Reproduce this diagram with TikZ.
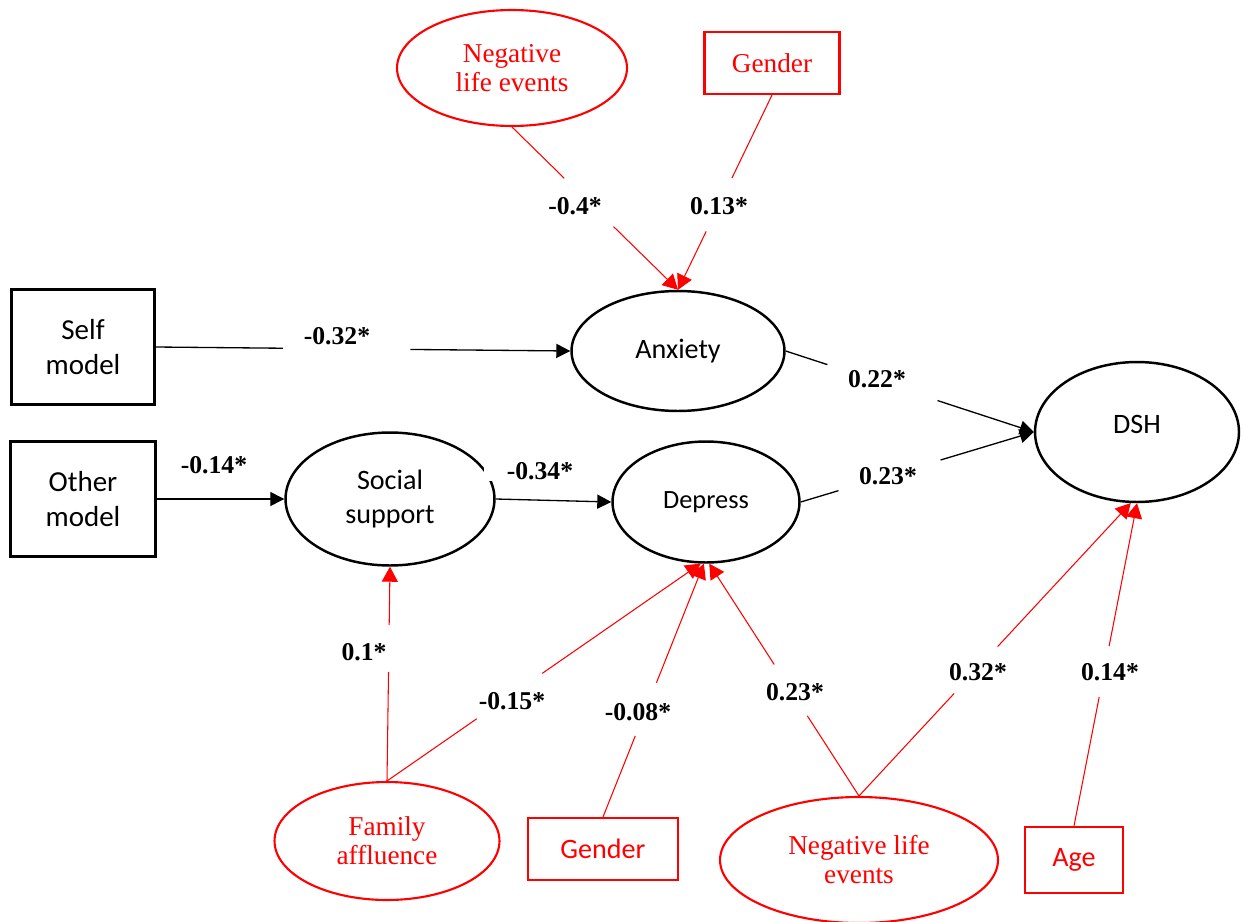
\documentclass[tikz,border=0pt]{standalone}
\usepackage{fontspec}
\setmainfont{Liberation Serif}
\newfontfamily\carl{Carlito}
\usetikzlibrary{shapes.geometric,arrows.meta,calc}
\definecolor{myred}{RGB}{255,0,0}
\begin{document}
\begin{tikzpicture}[x=0.02cm,y=-0.02cm,
  lat/.style={ellipse,draw,line width=1.4pt,inner sep=0pt,align=center,font=\carl\fontsize{16}{19.5}\selectfont},
  obs/.style={rectangle,draw,line width=1.4pt,inner sep=0pt,align=center,font=\carl\fontsize{16.5}{20}\selectfont},
  rlat/.style={ellipse,draw=myred,line width=1.2pt,inner sep=0pt,align=center,text=myred,font=\fontsize{15.5}{16.5}\selectfont},
  robs/.style={rectangle,draw=myred,line width=1.2pt,inner sep=0pt,align=center,text=myred,font=\carl\fontsize{16}{19}\selectfont},
  lab/.style={inner sep=1pt,font=\bfseries\fontsize{14.6}{16}\selectfont},
  blk/.style={line width=0.75pt,-{Triangle[length=0.28cm,width=0.28cm]}},
  rar/.style={draw=myred,line width=0.6pt,-{Triangle[length=0.3cm,width=0.32cm,color=myred,fill=myred]}}
]
\useasboundingbox (0,0) rectangle (1243,922);
% nodes
\node[rlat,minimum width=4.6cm,minimum height=2.32cm] (nle1) at (512,68) {Negative\\life events};
\node[robs,minimum width=2.7cm,minimum height=1.24cm,font=\fontsize{15.5}{16.5}\selectfont] (gen1) at (772,63) {Gender};
\node[obs,minimum width=2.86cm,minimum height=2.3cm] (self) at (83,347) {Self\\model};
\node[obs,minimum width=2.9cm,minimum height=2.3cm] (other) at (83,499) {Other\\model};
\node[lat,minimum width=4.26cm,minimum height=2.4cm] (anx) at (678,351) {\raisebox{-0.06cm}{Anxiety}};
\node[lat,minimum width=4.08cm,minimum height=2.8cm] (dsh) at (1137,432) {\raisebox{0.3cm}{DSH}};
\node[lat,minimum width=4.18cm,minimum height=2.66cm] (soc) at (390,499) {Social\\support};
\node[lat,minimum width=3.74cm,minimum height=2.42cm,font=\carl\fontsize{15}{18}\selectfont] (dep) at (706,502) {Depress};
\node[rlat,minimum width=4.5cm,minimum height=2.36cm] (fam) at (387,841) {Family\\affluence};
\node[robs,minimum width=3.0cm,minimum height=1.24cm] (gen2) at (603,849) {Gender};
\node[rlat,minimum width=5.56cm,minimum height=2.52cm] (nle2) at (859,860) {Negative life\\events};
\node[robs,minimum width=1.96cm,minimum height=1.32cm] (age) at (1074,860) {Age};
% labels
\node[lab] (l1) at (575,206) {-0.4*};
\node[lab] (l2) at (719,206) {0.13*};
\node[lab] (l3) at (337,336) {-0.32*};
\node[lab] (l4) at (214,465) {-0.14*};
\node[lab,fill=white,inner xsep=0.46cm,inner ysep=1pt] (l5) at (540,471) {-0.34*};
\node[lab] (l6) at (877,379) {0.22*};
\node[lab] (l7) at (888,476) {0.23*};
\node[lab] (l8) at (364,652) {0.1*};
\node[lab] (l9) at (512,701) {-0.15*};
\node[lab] (l10) at (638,712) {-0.08*};
\node[lab] (l11) at (795,692) {0.23*};
\node[lab] (l12) at (978,672) {0.32*};
\node[lab] (l13) at (1110,672) {0.14*};
% black connectors
\draw[blk] (self.east) -- ($(self.east)!0.307!(anx.west)$) ($(self.east)!0.614!(anx.west)$) -- (anx.west);
\draw[blk] (other.east) -- (soc.west);
\draw[blk] (soc.east) -- (dep.west);
\draw[blk] (anx.east) -- ($(anx.east)!0.168!(dsh.west)$) ($(anx.east)!0.612!(dsh.west)$) -- (dsh.west);
\draw[blk] (dep.east) -- ($(dep.east)!0.162!(dsh.west)$) ($(dep.east)!0.6!(dsh.west)$) -- (dsh.west);
% red connectors
\draw[rar] (nle1.south) -- ($(nle1.south)!0.315!(anx.north)$) ($(nle1.south)!0.612!(anx.north)$) -- (anx.north);
\draw[rar] (gen1.south) -- ($(gen1.south)!0.426!(anx.north)$) ($(gen1.south)!0.70!(anx.north)$) -- (anx.north);
\draw[rar] (fam.north) -- ($(fam.north)!0.509!(soc.south)$) ($(fam.north)!0.727!(soc.south)$) -- (soc.south);
\draw[rar] (fam.north) -- ($(fam.north)!0.286!(dep.265)$) ($(fam.north)!0.495!(dep.265)$) -- (dep.265);
\draw[rar] (gen2.north) -- ($(gen2.north)!0.32!(dep.268)$) ($(gen2.north)!0.53!(dep.268)$) -- (dep.268);
\draw[rar] (nle2.north) -- ($(nle2.north)!0.345!(dep.273)$) ($(nle2.north)!0.566!(dep.273)$) -- (dep.273);
\draw[rar] (nle2.north) -- ($(nle2.north)!0.35!(dsh.265)$) ($(nle2.north)!0.51!(dsh.265)$) -- (dsh.265);
\draw[rar] (age.north) -- ($(age.north)!0.4!(dsh.270)$) ($(age.north)!0.557!(dsh.270)$) -- (dsh.270);
\end{tikzpicture}
\end{document}
